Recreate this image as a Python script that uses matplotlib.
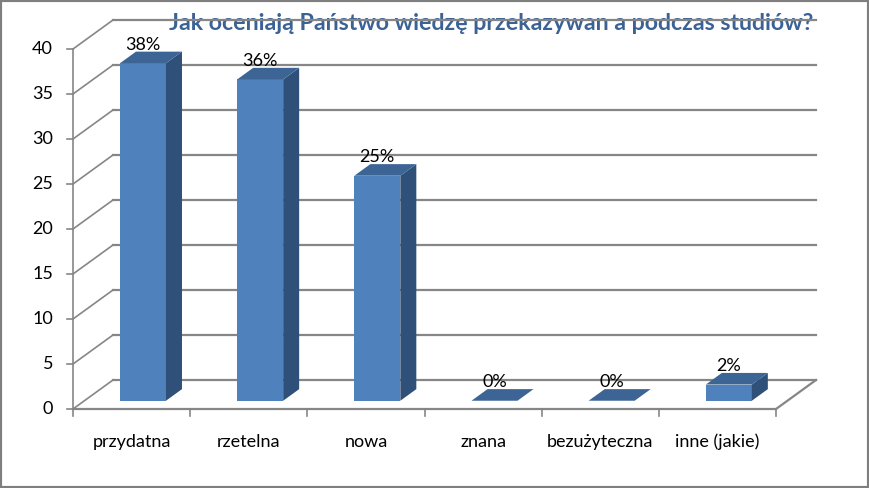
import matplotlib.pyplot as plt
from matplotlib.patches import Polygon

categories = ['przydatna', 'rzetelna', 'nowa', 'znana', 'bezużyteczna', 'inne (jakie)']
values = [37.5, 35.7, 25.0, 0.0, 0.0, 1.8]
labels = ['38%', '36%', '25%', '0%', '0%', '2%']
yticks = [0, 5, 10, 15, 20, 25, 30, 35, 40]
title = 'Jak oceniają Państwo wiedzę przekazywan a podczas studiów?'

plt.rcParams['font.family'] = ['Lato', 'DejaVu Sans']

# pseudo-3d projection (in data units)
px_x = 117.17   # pixels per category
px_y = 9.0      # pixels per unit
dx = 40 / px_x
dy = 29 / px_y
d0, d1 = 0.285, 0.685   # bar depth start / end
bw = 46 / px_x

fig = plt.figure(figsize=(8.69, 4.88), dpi=100)
ax = fig.add_axes([0, 0, 1, 1])
ax.set_xlim(-73 / px_x, (869 - 73) / px_x)
ax.set_ylim((409 - 488) / px_y, 409 / px_y)
ax.axis('off')

grid_c = '#868686'
n = len(categories)

# back wall grid + left wall diagonals
for v in yticks:
    ax.plot([dx, n + dx], [v + dy, v + dy], color=grid_c, lw=1.6, zorder=3)
    ax.plot([0, dx], [v, v + dy], color=grid_c, lw=1.2, zorder=1)
    ax.plot([-6 / px_x, 0], [v, v], color=grid_c, lw=1.2, zorder=1)
    ax.text(-20 / px_x, v, str(v), ha='right', va='center', fontsize=13, color='black')

# front axis + floor
ax.plot([0, 0], [0, 40], color=grid_c, lw=1.2)
ax.plot([0, n], [0, 0], color=grid_c, lw=1.6)
ax.plot([n, n + dx], [0, dy], color=grid_c, lw=1.6)
for i in range(n + 1):
    ax.plot([i, i], [0, -7 / px_y], color=grid_c, lw=1.2)

for i, (cat, v, lab) in enumerate(zip(categories, values, labels)):
    ax.text(i + 0.5, -33 / px_y, cat, ha='center', va='center', fontsize=13, color='black')
    x0 = i + 0.5 - bw / 2 + d0 * dx
    x1 = x0 + bw
    yb = d0 * dy
    yt = v + d0 * dy
    ddx = (d1 - d0) * dx
    ddy = (d1 - d0) * dy
    if v > 0:
        ax.add_patch(Polygon([(x0, yb), (x1, yb), (x1, yt), (x0, yt)], closed=True,
                             facecolor='#4F81BD', edgecolor='none', zorder=5))
        ax.add_patch(Polygon([(x1, yb), (x1 + ddx, yb + ddy), (x1 + ddx, yt + ddy), (x1, yt)],
                             closed=True, facecolor='#2F5079', edgecolor='none', zorder=5))
    ax.add_patch(Polygon([(x0, yt), (x1, yt), (x1 + ddx, yt + ddy), (x0 + ddx, yt + ddy)],
                         closed=True, facecolor='#3C6494', edgecolor='none', zorder=5))
    ax.text((x0 + x1) / 2, yt + ddy - 0.1, lab, ha='center', va='bottom',
            fontsize=13, color='black', zorder=6)

ax.text(813 / px_x - 73 / px_x, (409 - 24) / px_y, title, ha='right', va='center',
        fontsize=16.7, fontweight='bold', color='#3A6296', zorder=2)

fig.patches.append(plt.Rectangle((0, 0), 1, 1, transform=fig.transFigure, fill=False,
                                 edgecolor='#7F7F7F', lw=3))

fig.savefig('out.png', dpi=100)
